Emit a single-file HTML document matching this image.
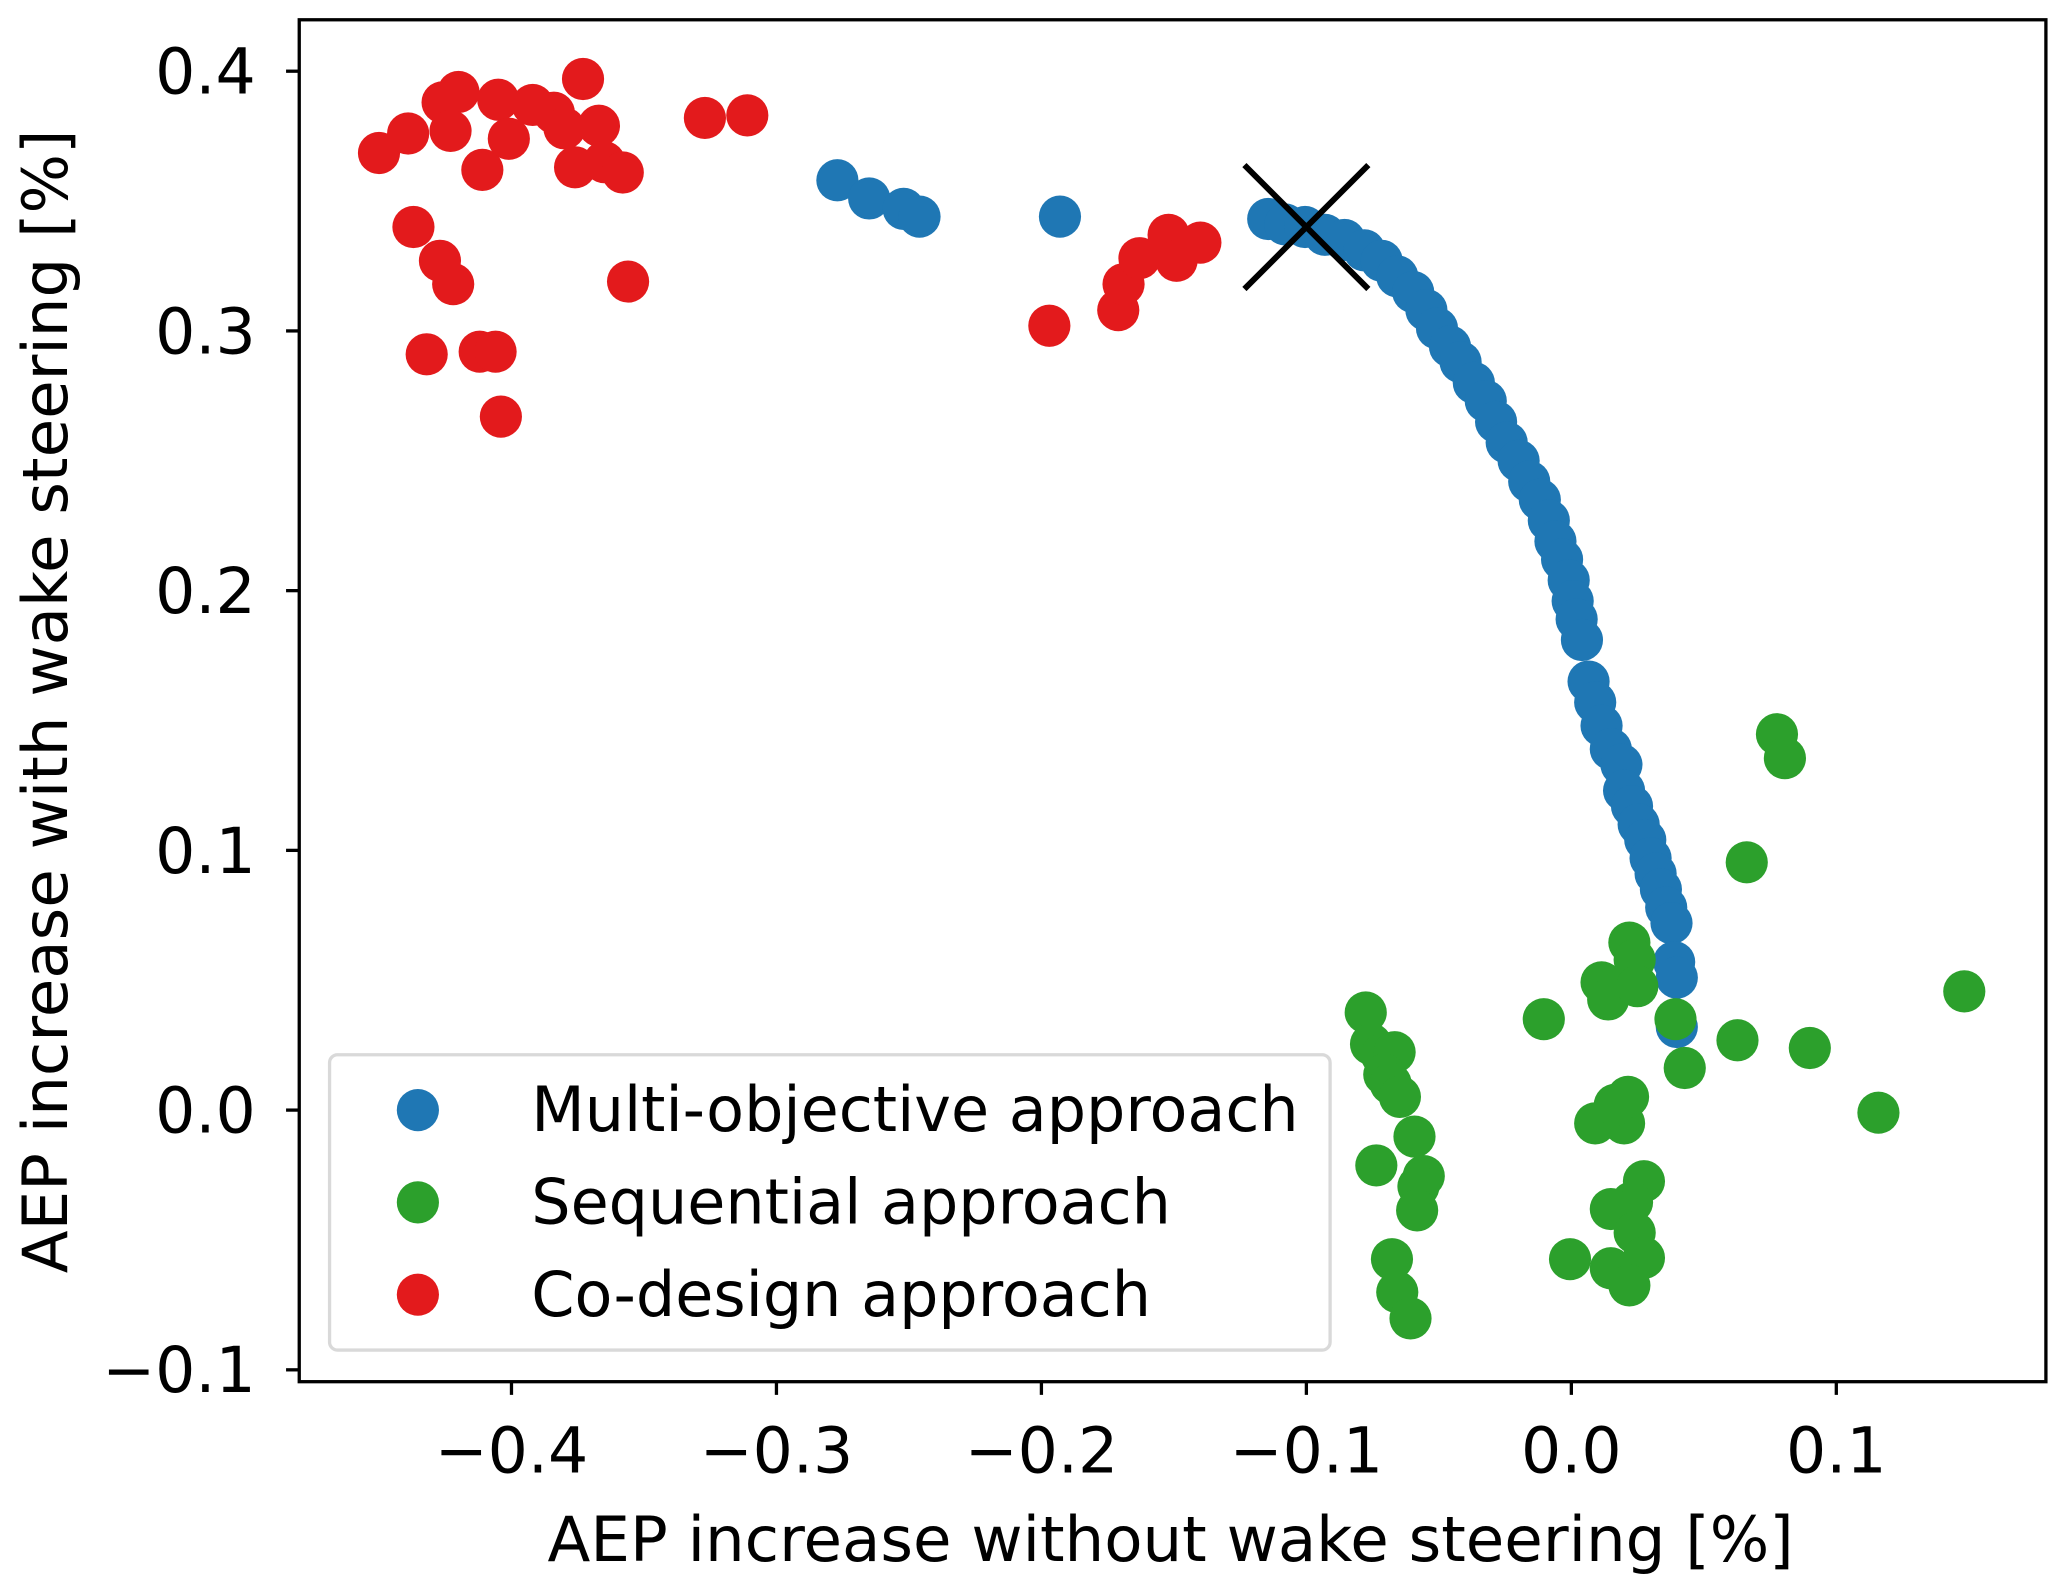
<!DOCTYPE html>
<html><head><meta charset="utf-8"><style>html,body{margin:0;padding:0;background:#fff}svg{display:block}</style></head>
<body>
<svg id="chart" width="2067" height="1590" viewBox="0 0 1568 1206" preserveAspectRatio="none" xmlns="http://www.w3.org/2000/svg" font-family="DejaVu Sans, Liberation Sans, sans-serif">
<rect width="1568" height="1206" fill="#fff"/>
<g id="marks"></g>
<rect x="227" y="15" width="1325" height="1033" fill="none" stroke="#000" stroke-width="2.5"/>
<g id="axes"></g>
<text x="888" y="1184" font-size="47.5" text-anchor="middle">AEP increase without wake steering [%]</text>
<text transform="translate(51,532) rotate(-90)" font-size="47.5" text-anchor="middle">AEP increase with wake steering [%]</text>
<g>
<rect x="250" y="800" width="759" height="224" rx="6" fill="#fff" fill-opacity="0.8" stroke="#d9d9d9" stroke-width="2.5"/>
<circle cx="317" cy="842" r="16" fill="#1f77b4"/>
<text x="403" y="858" font-size="47">Multi-objective approach</text>
<circle cx="317" cy="912" r="16" fill="#2ca02c"/>
<text x="403" y="928" font-size="47">Sequential approach</text>
<circle cx="317" cy="982" r="16" fill="#e31a1c"/>
<text x="403" y="998" font-size="47">Co-design approach</text>
</g>
</svg>
<script>
const xTicks = [-0.4, -0.3, -0.2, -0.1, 0.0, 0.1];
const xTickLabels = ["\u22120.4", "\u22120.3", "\u22120.2", "\u22120.1", "0.0", "0.1"];
const yTicks = [0.4, 0.3, 0.2, 0.1, 0.0, -0.1];
const yTickLabels = ["0.4", "0.3", "0.2", "0.1", "0.0", "\u22120.1"];
const multiX = [-0.277,-0.265,-0.252,-0.246,-0.193,-0.1144,-0.108,-0.1005,-0.093,-0.0856,-0.0781,-0.0716,-0.0657,-0.0597,-0.0547,-0.0507,-0.0458,-0.0418,-0.0368,-0.0323,-0.0284,-0.0244,-0.0199,-0.0159,-0.0119,-0.0085,-0.006,-0.0035,-0.001,0.0005,0.002,0.004,0.0065,0.009,0.0114,0.0149,0.0189,0.0199,0.0229,0.0254,0.0279,0.0299,0.0318,0.0338,0.0358,0.0378,0.0388,0.0398,0.0398];
const multiY = [0.358,0.351,0.347,0.344,0.344,0.3431,0.341,0.340,0.337,0.335,0.331,0.327,0.321,0.315,0.308,0.301,0.294,0.288,0.280,0.273,0.265,0.257,0.250,0.242,0.235,0.227,0.219,0.212,0.204,0.196,0.189,0.181,0.165,0.157,0.148,0.139,0.133,0.123,0.117,0.110,0.104,0.097,0.091,0.085,0.078,0.072,0.057,0.051,0.032];
const seqX = [-0.0776,-0.0756,-0.0716,-0.0667,-0.0706,-0.0682,-0.0647,-0.0592,-0.0736,-0.0557,-0.0577,-0.0582,-0.0677,-0.0657,-0.0607,-0.0104,0.0114,0.0139,0.0219,0.0239,0.0249,0.0393,0.0428,0.0627,0.09,0.1159,0.1483,0.0662,0.0776,0.0806,0.009,0.0199,0.0214,0.0164,0.0274,0.0229,0.0149,0.0239,0.0274,0.0149,0.0219,-0.0005];
const seqY = [0.0376,0.0254,0.0213,0.0223,0.0137,0.0102,0.0051,-0.0102,-0.0213,-0.0254,-0.0294,-0.0386,-0.0574,-0.0701,-0.0802,0.035,0.0492,0.0426,0.0645,0.0579,0.0477,0.035,0.0162,0.0269,0.0239,-0.001,0.0457,0.0954,0.1447,0.1355,-0.0051,-0.0051,0.0051,0.002,-0.0274,-0.0355,-0.0381,-0.0472,-0.0569,-0.0609,-0.0675,-0.0574];
const coX = [-0.45,-0.439,-0.426,-0.42,-0.423,-0.411,-0.405,-0.401,-0.392,-0.384,-0.38,-0.373,-0.376,-0.367,-0.365,-0.358,-0.437,-0.427,-0.422,-0.432,-0.412,-0.406,-0.404,-0.356,-0.327,-0.311,-0.197,-0.171,-0.169,-0.163,-0.152,-0.149,-0.14];
const coY = [0.3685,0.376,0.388,0.392,0.377,0.362,0.389,0.374,0.387,0.384,0.378,0.397,0.363,0.379,0.365,0.361,0.34,0.327,0.318,0.291,0.292,0.292,0.267,0.319,0.382,0.383,0.302,0.308,0.318,0.328,0.337,0.327,0.334];
const refX = [-0.1];
const refY = [0.34];

const NS = "http://www.w3.org/2000/svg";
function sx(v){ return 1192 + v * 2010; }
function sy(v){ return 842 - v * 1970; }
const marks = document.getElementById('marks');
const axes = document.getElementById('axes');
function mk(tag, attrs, parent){
  const e = document.createElementNS(NS, tag);
  for (const k in attrs) e.setAttribute(k, attrs[k]);
  parent.appendChild(e);
  return e;
}
function drawSeries(xs, ys, color, name){
  for (let i = 0; i < xs.length; i++){
    const c = mk('circle', {cx: sx(xs[i]), cy: sy(ys[i]), r: 16, fill: color}, marks);
    
    
  }
}
drawSeries(multiX, multiY, '#1f77b4', 'multi-objective-point');
drawSeries(seqX, seqY, '#2ca02c', 'sequential-point');
drawSeries(coX, coY, '#e31a1c', 'codesign-point');
for (let i = 0; i < refX.length; i++){
  const cx = sx(refX[i]), cy = sy(refY[i]), h = 47;
  const p = mk('path', {d: `M${cx-h},${cy-h}L${cx+h},${cy+h}M${cx-h},${cy+h}L${cx+h},${cy-h}`, stroke: '#000', 'stroke-width': 4.5, fill: 'none'}, marks);
  
  
}
xTicks.forEach((t, i) => {
  const x = sx(t);
  const l = mk('line', {x1: x, x2: x, y1: 1048, y2: 1058, stroke: '#000', 'stroke-width': 2.5}, axes);
  
  
  const tx = mk('text', {x: x, y: 1117, 'font-size': 48, 'text-anchor': 'middle'}, axes);
  tx.textContent = xTickLabels[i];
  
  
});
yTicks.forEach((t, i) => {
  const y = sy(t);
  const l = mk('line', {x1: 217, x2: 227, y1: y, y2: y, stroke: '#000', 'stroke-width': 2.5}, axes);
  
  
  const tx = mk('text', {x: 194, y: y + 17, 'font-size': 48, 'text-anchor': 'end'}, axes);
  tx.textContent = yTickLabels[i];
  
  
});
</script>
</body></html>
